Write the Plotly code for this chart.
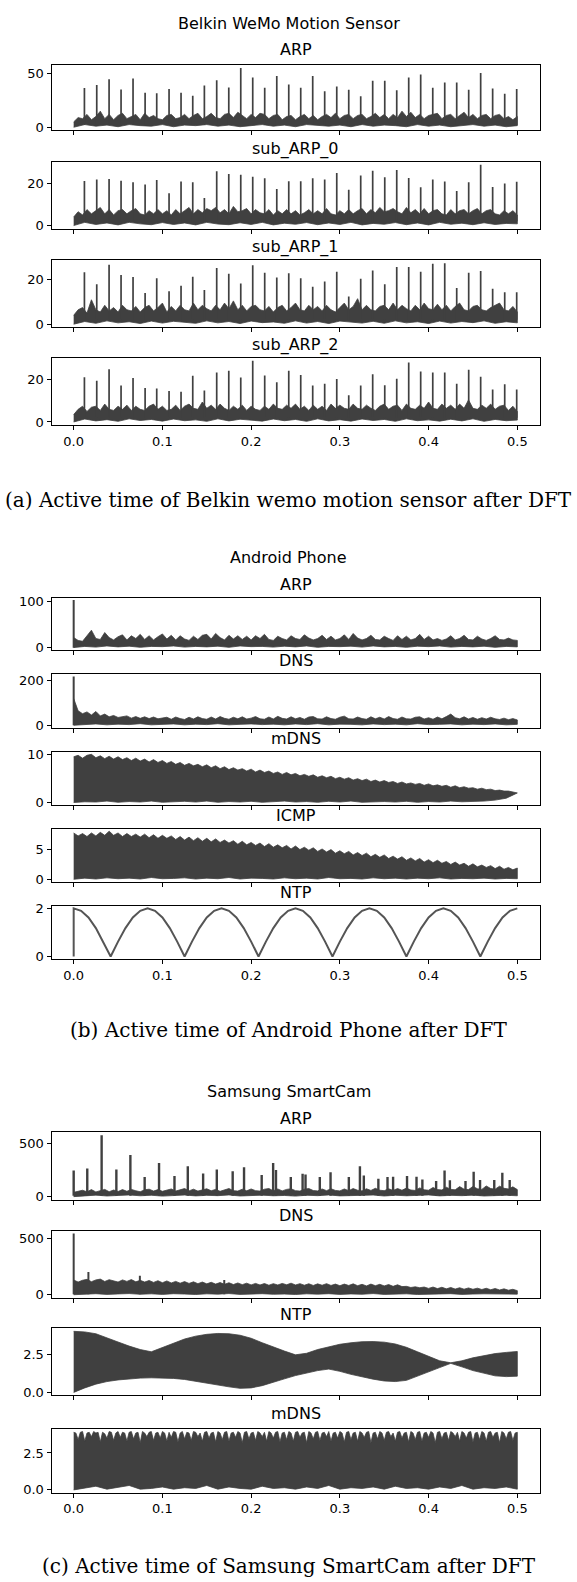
import numpy as np
import plotly.graph_objects as go

W, H = 577, 1582
INK = "#404040"
SANS = "DejaVu Sans"
SERIF = "DejaVu Serif"

# ---------------- shared tick data ----------------
freq_ticks = [0.0, 0.1, 0.2, 0.3, 0.4, 0.5]
freq_tick_labels = ["0.0", "0.1", "0.2", "0.3", "0.4", "0.5"]

# ---------------- (a) Belkin WeMo Motion Sensor ----------------
belkin_spike_f = [0.0121, 0.026, 0.0399, 0.0534, 0.0669, 0.0805, 0.0936, 0.1075, 0.121, 0.1342,
                  0.1473, 0.1612, 0.1748, 0.1883, 0.2018, 0.2153, 0.2289, 0.2424, 0.2559, 0.2694,
                  0.2829, 0.2965, 0.31, 0.3235, 0.337, 0.3506, 0.3641, 0.3776, 0.3911, 0.4047,
                  0.4182, 0.4317, 0.4452, 0.4587, 0.4722, 0.4858, 0.4993]
belkin_arp_spikes = [36.5, 39.5, 44.8, 35.3, 45.4, 32.3, 31.7, 35.6, 32.3, 29.3, 38.9, 43.9, 37.1,
                     55.2, 46.3, 36.8, 47.8, 39.8, 36.8, 47.8, 33.5, 38.0, 35.0, 29.0, 43.3, 43.3,
                     34.4, 46.3, 49.3, 36.8, 41.8, 41.8, 35.0, 50.5, 36.2, 31.3, 35.6]
belkin_sub0_spikes = [21.0, 21.6, 21.9, 21.1, 20.4, 19.3, 21.4, 15.2, 20.7, 20.4, 12.9, 25.5, 24.3,
                      23.9, 23.0, 22.2, 17.2, 20.8, 20.8, 22.2, 21.6, 24.7, 16.8, 23.5, 25.8, 22.7,
                      26.1, 22.4, 18.0, 21.6, 20.7, 16.2, 20.4, 28.6, 18.1, 19.8, 20.6]
belkin_sub1_spikes = [23.4, 18.0, 26.8, 22.1, 21.3, 14.1, 20.7, 14.8, 17.3, 21.4, 15.4, 25.3, 22.7,
                      18.3, 26.5, 23.2, 21.0, 22.9, 20.7, 16.9, 19.2, 23.6, 12.5, 20.5, 24.2, 18.0,
                      25.8, 25.8, 23.6, 27.2, 27.5, 16.3, 23.2, 24.0, 16.0, 14.4, 14.4]
belkin_sub2_spikes = [21.3, 19.6, 25.1, 17.3, 20.9, 16.2, 15.9, 14.7, 14.4, 22.0, 15.0, 23.5, 24.4,
                      21.2, 29.1, 22.1, 18.9, 24.4, 22.4, 17.3, 18.2, 20.4, 12.7, 17.3, 22.7, 17.5,
                      20.6, 28.3, 24.0, 23.5, 23.5, 18.2, 24.8, 21.5, 15.5, 18.0, 15.5]

belkin_arp_floor_hi = [5, 9, 8, 12, 7, 10, 15, 8, 12, 7, 11, 13, 8, 10, 12, 7, 13, 9, 11, 8, 7, 11, 12,
                       8, 9, 12, 8, 11, 13, 8, 10, 13, 9, 8, 12, 13, 9, 14, 11, 8, 12, 9, 13, 12, 8,
                       11, 12, 7, 10, 11, 7, 10, 12, 8, 11, 7, 10, 12, 9, 13, 8, 11, 12, 8, 11, 12, 8,
                       10, 13, 9, 12, 8, 12, 9, 15, 10, 14, 9, 12, 8, 11, 12, 13, 8, 11, 12, 8, 11, 14,
                       9, 12, 8, 11, 12, 8, 11, 12, 8, 10, 7, 10]
belkin_arp_floor_lo = [0, 2.5, 1, 2, 0.5, 2.5, 1.5, 1, 2.5, 0.5, 2, 1.5, 2.5, 1, 2, 0.5, 1.5, 2.5, 1,
                       2, 0.5, 2.5, 1.5, 1, 2, 0.5, 2.5, 1, 2, 1.5, 0.5, 2.5, 1, 2, 0.5, 1.5, 2.5, 1,
                       2, 0.5, 1.5]

belkin_sub0_floor_hi = [4, 6.5, 5, 7.5, 5.5, 7, 8.5, 5.5, 7.5, 5, 7, 7.5, 5.5, 7, 8, 5.5, 5, 7, 5.5,
                        7.5, 5.5, 7, 5, 7.5, 5.5, 7, 8.5, 5.5, 7.5, 6, 8, 7, 8.5, 6, 7.5, 5.5, 9, 6.5,
                        7, 8, 5.5, 7.5, 6, 5.5, 7.5, 5, 7, 5.5, 7.5, 5.5, 7, 5, 6, 7.5, 5.5, 7, 5.5, 8,
                        5.5, 5, 7, 5.5, 7.5, 5.5, 7, 8, 5.5, 7.5, 6, 8.5, 6.5, 7, 8, 6.5, 5.5, 8.5, 6,
                        7.5, 5.5, 8, 5.5, 7, 7.5, 5.5, 5, 7.5, 5.5, 7, 7.5, 5.5, 7, 8, 5.5, 7, 7.5,
                        5.5, 5, 7, 5.5, 7, 5]
belkin_sub0_floor_lo = [0, 1.5, 0.5, 1.2, 0.3, 1.5, 0.8, 0.4, 1.4, 0.5, 1.2, 0.3, 1.5, 0.7, 0.4, 1.3,
                        0.5, 1.5, 0.3, 1.1, 0.6, 1.4, 0.4, 1.2, 0.5, 1.5, 0.3, 1.0, 0.6, 1.4, 0.4, 1.2,
                        0.3, 1.5, 0.6, 1.1, 0.4, 1.3, 0.5, 1.0, 0.8]

belkin_sub1_floor_hi = [4, 6.5, 7.5, 5, 11, 6.5, 5.5, 8.5, 6, 7.5, 5.5, 8.5, 6.5, 6, 8, 5.5, 7.5, 8.5,
                        6, 7.5, 9.5, 5.5, 8, 6, 8.5, 6.5, 6, 9.5, 6.5, 8.5, 7, 6, 8.5, 6.5, 9.5, 7,
                        10.5, 6.5, 8.5, 6, 8, 8.5, 6.5, 6, 8, 5.5, 7.5, 8.5, 6, 7.5, 9.5, 6.5, 6, 8.5,
                        6.5, 8, 6, 8.5, 6.5, 5.5, 7.5, 9.5, 6.5, 8, 11.5, 6.5, 8.5, 6.5, 6, 8, 8.5,
                        6.5, 9.5, 6.5, 8.5, 7, 6, 8.5, 6.5, 9.5, 7, 6.5, 9, 6.5, 8.5, 6, 8, 9.5, 6.5,
                        6, 8, 8.5, 6.5, 6, 7.5, 8.5, 9.5, 6.5, 6, 8, 5.5]
belkin_sub1_floor_lo = [0, 1.2, 0.4, 1.5, 0.6, 1.1, 0.3, 1.4, 0.5, 1.3, 0.8, 0.4, 1.5, 0.6, 1.2, 0.3,
                        1.4, 0.7, 1.0, 0.4, 1.5, 0.5, 1.2, 0.3, 1.4, 0.8, 0.5, 1.3, 0.4, 1.5, 0.6, 1.1,
                        0.3, 1.4, 0.5, 1.2, 0.7, 1.5, 0.4, 1.1, 0.6]

belkin_sub2_floor_hi = [3.5, 6, 7.5, 5, 7, 7.5, 5.5, 8.5, 6, 5.5, 7.5, 6, 8, 5.5, 7.5, 6, 5.5, 7.5, 8.5,
                        6, 7.5, 5.5, 6, 8, 5.5, 7.5, 8.5, 6.5, 6, 9.5, 6.5, 8, 6, 8.5, 6.5, 5.5, 7.5,
                        6, 8, 5.5, 7.5, 6, 5.5, 7.5, 6, 8.5, 6.5, 6, 8, 6.5, 8.5, 6, 7.5, 5.5, 8, 6,
                        7.5, 5.5, 8.5, 6.5, 8, 6.5, 6, 8.5, 6.5, 6, 8, 6.5, 5.5, 7.5, 8.5, 6, 7.5, 8,
                        5.5, 8.5, 6.5, 6, 8, 6.5, 9.5, 6.5, 6, 8.5, 6.5, 8, 6, 8.5, 6.5, 10.5, 6.5, 6,
                        8, 6.5, 8.5, 6, 7.5, 8, 5.5, 7.5, 5]
belkin_sub2_floor_lo = [0, 1.4, 0.5, 1.1, 0.3, 1.5, 0.7, 1.2, 0.4, 1.4, 0.6, 1.0, 0.3, 1.5, 0.5, 1.3,
                        0.8, 0.4, 1.4, 0.6, 1.2, 0.3, 1.5, 0.5, 1.1, 0.4, 1.4, 0.7, 1.2, 0.3, 1.5, 0.6,
                        1.0, 0.4, 1.3, 0.5, 1.5, 0.3, 1.2, 0.6, 0.9]

# ---------------- (b) Android Phone ----------------
android_arp_dc = 103.4
android_arp_hi = [22, 16, 14, 26, 38, 20, 18, 33, 22, 17, 24, 28, 17, 26, 20, 29, 18, 26, 17, 24, 30,
                  19, 27, 17, 26, 19, 16, 25, 18, 27, 29, 19, 31, 22, 17, 27, 19, 26, 18, 25, 17, 26,
                  20, 29, 18, 16, 25, 20, 17, 26, 20, 18, 28, 21, 17, 20, 27, 18, 25, 17, 20, 28, 18,
                  31, 21, 17, 20, 27, 18, 17, 25, 20, 16, 26, 18, 25, 17, 20, 29, 18, 25, 17, 20, 16,
                  19, 26, 17, 20, 27, 18, 17, 25, 19, 16, 20, 26, 18, 17, 21, 17, 16]
android_arp_lo = [0.5, 3, 1.5, 4, 2, 3.5, 1, 3, 2.5, 4, 1.5, 3, 2, 3.5, 1, 4, 2.5, 3, 1.5, 3.5, 2, 4,
                  1, 3, 2.5, 3.5, 1.5, 4, 2, 3, 1, 3.5, 2.5, 4, 1.5, 3, 2, 3.5, 1, 3, 2]

android_dns_dc = 219.0
android_dns_hi = [120, 65, 52, 60, 46, 62, 42, 50, 38, 44, 35, 40, 42, 32, 39, 31, 38, 30, 37, 29, 33,
                  36, 27, 37, 30, 26, 36, 28, 38, 30, 27, 37, 28, 39, 31, 27, 36, 29, 38, 28, 32, 39,
                  29, 27, 37, 28, 40, 31, 28, 38, 29, 35, 27, 37, 39, 29, 28, 38, 30, 27, 36, 41, 29,
                  28, 37, 30, 27, 38, 29, 36, 28, 39, 30, 27, 37, 29, 28, 36, 38, 28, 34, 27, 37, 29,
                  39, 50, 34, 29, 38, 28, 35, 27, 34, 28, 36, 29, 26, 32, 25, 30, 24]
android_dns_lo = [0, 3, 6, 2, 5, 3, 7, 2, 4, 6, 2, 5, 3, 7, 2, 4, 6, 3, 5, 2, 6, 3, 7, 2, 5, 4, 2, 6,
                  3, 5, 2, 7, 3, 4, 6, 2, 5, 3, 6, 2, 4]

android_mdns_hi = [9.6, 9.9, 9.3, 9.9, 10.1, 9.4, 9.8, 9.2, 9.7, 9.1, 9.6, 9.0, 9.4, 8.8, 9.3, 8.7,
                   9.1, 8.5, 9.0, 8.4, 8.8, 8.2, 8.6, 8.0, 8.4, 7.8, 8.2, 7.7, 8.0, 7.5, 7.9, 7.3,
                   7.7, 7.1, 7.5, 6.9, 7.3, 6.8, 7.1, 6.6, 7.0, 6.4, 6.8, 6.3, 6.6, 6.1, 6.4, 5.9,
                   6.3, 5.8, 6.1, 5.6, 5.9, 5.5, 5.8, 5.3, 5.6, 5.2, 5.5, 5.0, 5.3, 4.9, 5.2, 4.7,
                   5.0, 4.6, 4.9, 4.4, 4.7, 4.3, 4.6, 4.2, 4.4, 4.0, 4.3, 3.9, 4.1, 3.8, 4.0, 3.6,
                   3.9, 3.5, 3.7, 3.4, 3.6, 3.2, 3.5, 3.1, 3.3, 3.0, 3.1, 2.8, 3.0, 2.7, 2.8, 2.5,
                   2.6, 2.4, 2.4, 2.2, 2.1]
android_mdns_lo = [0, 0.15, 0.1, 0.3, 0.05, 0.2, 0.1, 0.3, 0.05, 0.15, 0.25, 0.1, 0.3, 0.05, 0.2,
                   0.1, 0.25, 0.05, 0.15, 0.3, 0.1, 0.2, 0.05, 0.25, 0.1, 0.3, 0.05, 0.15, 0.2, 0.1,
                   0.25, 0.05, 0.2, 0.1, 0.3, 0.15, 0.2, 0.3, 0.5, 0.9, 2.0]

android_icmp_hi = [7.8, 7.3, 7.7, 7.2, 7.8, 7.3, 7.9, 7.4, 8.1, 7.4, 7.8, 7.2, 7.7, 7.2, 7.6, 7.1,
                   7.6, 7.0, 7.5, 6.9, 7.4, 6.9, 7.3, 6.7, 7.2, 6.6, 7.1, 6.5, 7.0, 6.4, 6.9, 6.3,
                   6.8, 6.2, 6.6, 6.1, 6.5, 5.9, 6.4, 5.8, 6.2, 5.7, 6.1, 5.5, 6.0, 5.4, 5.8, 5.3,
                   5.7, 5.1, 5.6, 5.0, 5.4, 4.9, 5.3, 4.7, 5.1, 4.6, 5.0, 4.4, 4.8, 4.3, 4.7, 4.1,
                   4.5, 4.0, 4.4, 3.8, 4.2, 3.7, 4.1, 3.5, 3.9, 3.4, 3.8, 3.2, 3.6, 3.1, 3.5, 2.9,
                   3.3, 2.8, 3.2, 2.7, 3.0, 2.5, 2.9, 2.4, 2.7, 2.2, 2.6, 2.1, 2.4, 2.0, 2.3, 1.8,
                   2.2, 1.7, 2.0, 1.6, 1.9]
android_icmp_lo = [0, 0.2, 0.05, 0.25, 0.1, 0.2, 0.05, 0.3, 0.1, 0.15, 0.25, 0.05, 0.2, 0.1, 0.3,
                   0.05, 0.2, 0.15, 0.05, 0.25, 0.1, 0.2, 0.05, 0.3, 0.1, 0.15, 0.05, 0.25, 0.1, 0.2,
                   0.05, 0.2, 0.1, 0.25, 0.05, 0.15, 0.1, 0.2, 0.05, 0.15, 0.1]

android_ntp_dc = 0.0
android_ntp = [2.0, 1.9, 1.62, 1.18, 0.62, 0.0, 0.62, 1.18, 1.62, 1.9,
               2.0, 1.9, 1.62, 1.18, 0.62, 0.0, 0.62, 1.18, 1.62, 1.9,
               2.0, 1.9, 1.62, 1.18, 0.62, 0.0, 0.62, 1.18, 1.62, 1.9,
               2.0, 1.9, 1.62, 1.18, 0.62, 0.0, 0.62, 1.18, 1.62, 1.9,
               2.0, 1.9, 1.62, 1.18, 0.62, 0.0, 0.62, 1.18, 1.62, 1.9,
               2.0, 1.9, 1.62, 1.18, 0.62, 0.0, 0.62, 1.18, 1.62, 1.9,
               2.0]

# ---------------- (c) Samsung SmartCam ----------------
samsung_arp_spike_f = [0.0, 0.0153, 0.0315, 0.0481, 0.0639, 0.08, 0.0962, 0.1136, 0.1286, 0.1459,
                       0.1613, 0.1792, 0.192, 0.2119, 0.2248, 0.228, 0.2447, 0.258, 0.2613, 0.2774,
                       0.2895, 0.3101, 0.3226, 0.327, 0.3434, 0.3537, 0.36, 0.3757, 0.3864, 0.393,
                       0.4085, 0.418, 0.424, 0.4416, 0.4508, 0.458, 0.474, 0.4831, 0.4914]
samsung_arp_spikes = [245, 264, 577, 254, 392, 184, 316, 193, 285, 217, 254, 239, 276, 203, 316, 250,
                      184, 215, 209, 184, 230, 184, 285, 199, 168, 184, 187, 193, 187, 162, 147, 245,
                      153, 147, 233, 156, 156, 224, 156]
samsung_arp_hi = [40, 48, 60, 45, 66, 44, 58, 68, 46, 62, 48, 66, 50, 68, 55, 46, 64, 70, 52, 66, 50,
                  63, 72, 52, 66, 76, 54, 70, 52, 66, 74, 55, 68, 50, 66, 76, 56, 52, 70, 55, 72, 56,
                  52, 70, 76, 55, 72, 54, 68, 74, 56, 52, 70, 76, 57, 54, 72, 56, 74, 58, 54, 72, 56,
                  76, 60, 54, 74, 58, 78, 60, 56, 74, 58, 76, 60, 80, 62, 58, 82, 64, 60, 86, 66, 62,
                  88, 68, 64, 94, 70, 66, 96, 74, 68, 100, 76, 70, 98, 78, 72, 92, 66]
samsung_arp_lo = [0, 8, 14, 6, 12, 16, 8, 13, 5, 11, 15, 7, 12, 9, 16, 6, 12, 14, 8, 11, 5, 13, 9, 16,
                  7, 12, 10, 15, 6, 13, 8, 11, 16, 7, 12, 9, 14, 6, 11, 13, 8]

samsung_dns_spike_f = [0.0, 0.0166, 0.0746, 0.1697]
samsung_dns_spikes = [541, 200, 168, 130]
samsung_dns_hi = [130, 112, 128, 136, 115, 131, 138, 117, 133, 122, 112, 131, 118, 134, 114, 127, 112,
                  126, 109, 124, 106, 122, 104, 118, 102, 116, 100, 114, 98, 112, 96, 110, 94, 108,
                  92, 106, 90, 104, 89, 102, 87, 100, 86, 99, 84, 98, 86, 100, 88, 102, 86, 98, 84,
                  97, 82, 96, 84, 98, 82, 94, 80, 94, 82, 96, 80, 92, 78, 94, 80, 92, 78, 90, 74, 88,
                  72, 74, 64, 70, 62, 68, 56, 68, 54, 66, 52, 64, 50, 62, 49, 60, 48, 58, 46, 57, 44,
                  55, 42, 52, 40, 48, 36]
samsung_dns_lo = [0, 4, 9, 3, 7, 10, 4, 8, 3, 9, 6, 2, 8, 5, 10, 3, 7, 9, 4, 6, 2, 8, 5, 9, 3, 7, 4,
                  10, 3, 6, 8, 2, 7, 5, 9, 3, 6, 8, 4, 7, 5]

samsung_ntp_f = [0.0, 0.0125, 0.025, 0.0375, 0.05, 0.0625, 0.075, 0.0875, 0.1, 0.1125, 0.125,
                 0.1375, 0.15, 0.1625, 0.175, 0.1875, 0.2, 0.2125, 0.225, 0.2375, 0.25, 0.2625,
                 0.275, 0.2875, 0.3, 0.3125, 0.325, 0.3375, 0.35, 0.3625, 0.375, 0.3875, 0.4,
                 0.4125, 0.425, 0.4375, 0.45, 0.4625, 0.475, 0.4875, 0.5]
samsung_ntp_upper = [4.06, 4.02, 3.9, 3.65, 3.35, 3.08, 2.85, 2.7, 3.0, 3.3, 3.55, 3.74, 3.86, 3.92,
                     3.9, 3.8, 3.6, 3.3, 3.0, 2.75, 2.5, 2.6, 2.85, 3.05, 3.2, 3.3, 3.37, 3.38,
                     3.34, 3.22, 3.0, 2.7, 2.4, 2.1, 1.97, 2.1, 2.3, 2.45, 2.58, 2.66, 2.72]
samsung_ntp_lower = [0.0, 0.3, 0.55, 0.72, 0.83, 0.9, 0.95, 0.97, 0.97, 0.93, 0.86, 0.75, 0.63,
                     0.5, 0.37, 0.27, 0.3, 0.45, 0.68, 0.9, 1.12, 1.3, 1.45, 1.55, 1.4, 1.2, 1.02,
                     0.88, 0.76, 0.72, 0.8, 1.05, 1.35, 1.65, 1.93, 1.7, 1.45, 1.25, 1.1, 1.05, 1.08]

samsung_mdns_hi = [3.9, 3.85, 3.4, 3.9, 3.95, 3.3, 3.85, 3.9, 3.6, 3.95, 3.85, 3.9, 3.25, 3.9, 3.8,
                   3.5, 3.95, 3.9, 3.35, 3.85,
                   3.95, 3.55, 3.9, 3.85, 3.3, 3.9, 3.95, 3.45, 3.85, 3.9, 3.2, 3.95, 3.85, 3.6, 3.9,
                   3.95, 3.35, 3.85, 3.9, 3.5,
                   3.95, 3.85, 3.3, 3.9, 3.55, 3.95, 3.9, 3.25, 3.85, 3.95, 3.45, 3.9, 3.85, 3.35,
                   3.95, 3.9, 3.6, 3.85, 3.3, 3.9,
                   3.95, 3.5, 3.85, 3.9, 3.25, 3.95, 3.85, 3.4, 3.9, 3.95, 3.3, 3.85, 3.9, 3.55, 3.95,
                   3.85, 3.2, 3.9, 3.95, 3.45,
                   3.85, 3.9, 3.35, 3.95, 3.85, 3.6, 3.9, 3.3, 3.95, 3.85, 3.5, 3.9, 3.95, 3.25, 3.85,
                   3.9, 3.4, 3.95, 3.85, 3.3,
                   3.9, 3.95, 3.55, 3.85, 3.9, 3.2, 3.95, 3.85, 3.45, 3.9, 3.95, 3.35, 3.85, 3.9, 3.6,
                   3.95, 3.3, 3.85, 3.9, 3.5,
                   3.95, 3.85, 3.25, 3.9, 3.95, 3.4, 3.85, 3.9, 3.3, 3.95, 3.85, 3.55, 3.9, 3.95, 3.2,
                   3.85, 3.9, 3.45, 3.95, 3.85,
                   3.35, 3.9, 3.95, 3.6, 3.85, 3.3, 3.9, 3.95, 3.5, 3.85, 3.9, 3.25, 3.95, 3.85, 3.4,
                   3.9, 3.95, 3.3, 3.85, 3.9,
                   3.55, 3.95, 3.85, 3.2, 3.9, 3.95, 3.45, 3.85, 3.9, 3.35, 3.95, 3.85, 3.6, 3.9, 3.3,
                   3.95, 3.85, 3.5, 3.9, 3.95,
                   3.25, 3.85, 3.9, 3.4, 3.95, 3.85, 3.3, 3.9, 3.95, 3.55, 3.85, 3.9, 3.2, 3.95, 3.85,
                   3.45, 3.9, 3.95, 3.35, 3.85,
                   3.9]
samsung_mdns_lo = [0, 0.1, 0.25, 0.05, 0.15, 0.3, 0.05, 0.1, 0.2, 0.05, 0.15, 0.1, 0.3, 0.05, 0.2,
                   0.1, 0.05, 0.25, 0.1, 0.15, 0.05, 0.2, 0.1, 0.3, 0.05, 0.15, 0.1, 0.2, 0.05, 0.25,
                   0.1, 0.15, 0.05, 0.2, 0.1, 0.3, 0.05, 0.15, 0.1, 0.2, 0.05]

# ---------------- text ----------------
group_titles = ["Belkin WeMo Motion Sensor", "Android Phone", "Samsung SmartCam"]
captions = ["(a) Active time of Belkin wemo motion sensor after DFT",
            "(b) Active time of Android Phone after DFT",
            "(c) Active time of Samsung SmartCam after DFT"]

# ---------------- layout geometry (pixels) ----------------
BOX_L, BOX_R = 51.5, 539.5
group_title_y = [18.3, 556.0, 1093.3]
caption_y = [497.7, 1031.7, 1571.0]

panels = [
    dict(title="ARP", box=(60.5, 126.0), ty=45.0, yt=[0, 50], ytl=["0", "50"], xl=False,
         band=(belkin_arp_floor_hi, belkin_arp_floor_lo), spikes=(belkin_spike_f, belkin_arp_spikes, 2, 1.7)),
    dict(title="sub_ARP_0", box=(157.7, 225.0), ty=145.0, yt=[0, 20], ytl=["0", "20"], xl=False,
         band=(belkin_sub0_floor_hi, belkin_sub0_floor_lo), spikes=(belkin_spike_f, belkin_sub0_spikes, 2, 1.7)),
    dict(title="sub_ARP_1", box=(256.7, 324.3), ty=243.3, yt=[0, 20], ytl=["0", "20"], xl=False,
         band=(belkin_sub1_floor_hi, belkin_sub1_floor_lo), spikes=(belkin_spike_f, belkin_sub1_spikes, 2, 1.7)),
    dict(title="sub_ARP_2", box=(355.0, 422.7), ty=341.7, yt=[0, 20], ytl=["0", "20"], xl=True,
         band=(belkin_sub2_floor_hi, belkin_sub2_floor_lo), spikes=(belkin_spike_f, belkin_sub2_spikes, 2, 1.7)),

    dict(title="ARP", box=(596.3, 649.3), ty=582.7, yt=[0, 100], ytl=["0", "100"], xl=False,
         band=(android_arp_hi, android_arp_lo), spikes=([0.0], [android_arp_dc], 0, 2.0)),
    dict(title="DNS", box=(673.3, 727.3), ty=659.3, yt=[0, 200], ytl=["0", "200"], xl=False,
         band=(android_dns_hi, android_dns_lo), spikes=([0.0], [android_dns_dc], 0, 2.0)),
    dict(title="mDNS", box=(751.7, 805.0), ty=737.7, yt=[0, 10], ytl=["0", "10"], xl=False,
         band=(android_mdns_hi, android_mdns_lo)),
    dict(title="ICMP", box=(829.0, 882.3), ty=816.0, yt=[0, 5], ytl=["0", "5"], xl=False,
         band=(android_icmp_hi, android_icmp_lo)),
    dict(title="NTP", box=(906.7, 960.0), ty=893.3, yt=[0, 2], ytl=["0", "2"], xl=True,
         line=android_ntp, line_dc=android_ntp_dc),

    dict(title="ARP", box=(1134.3, 1202.3), ty=1120.7, yt=[0, 500], ytl=["0", "500"], xl=False,
         band=(samsung_arp_hi, samsung_arp_lo), spikes=(samsung_arp_spike_f, samsung_arp_spikes, 8, 2.4)),
    dict(title="DNS", box=(1233.3, 1301.0), ty=1218.3, yt=[0, 500], ytl=["0", "500"], xl=False,
         band=(samsung_dns_hi, samsung_dns_lo), spikes=(samsung_dns_spike_f, samsung_dns_spikes, 4, 2.0)),
    dict(title="NTP", box=(1331.7, 1399.3), ty=1317.7, yt=[0, 2.5], ytl=["0.0", "2.5"], xl=False,
         band=(samsung_ntp_upper, samsung_ntp_lower), band_f=samsung_ntp_f),
    dict(title="mDNS", box=(1432.7, 1497.3), ty=1417.7, yt=[0, 2.5], ytl=["0.0", "2.5"], xl=True,
         band=(samsung_mdns_hi, samsung_mdns_lo)),
]


def px_y(py):
    return 1 - py / H


fig = go.Figure()
layout = dict(
    width=W, height=H, margin=dict(l=0, r=0, t=0, b=0),
    paper_bgcolor="white", plot_bgcolor="white", showlegend=False,
    annotations=[],
)

for i, p in enumerate(panels, start=1):
    xa = "x" if i == 1 else f"x{i}"
    ya = "y" if i == 1 else f"y{i}"
    vmax = 0.0
    if "band" in p:
        hi, lo = p["band"]
        if "band_f" in p:
            f_hi = list(p["band_f"])
            f_lo = list(p["band_f"])
        else:
            f_hi = list(np.linspace(0, 0.5, len(hi)))
            f_lo = list(np.linspace(0, 0.5, len(lo)))
        xs = f_hi + f_lo[::-1]
        ys = list(hi) + list(lo)[::-1]
        fig.add_trace(go.Scatter(x=xs, y=ys, mode="lines", fill="toself", fillcolor=INK,
                                 line=dict(color=INK, width=0.8), xaxis=xa, yaxis=ya,
                                 hoverinfo="skip"))
        vmax = max(vmax, max(hi))
    if "spikes" in p:
        sf, sa, base, lw = p["spikes"]
        sx, sy = [], []
        for f, a in zip(sf, sa):
            sx += [f, f, None]
            sy += [base, a, None]
        fig.add_trace(go.Scatter(x=sx, y=sy, mode="lines", line=dict(color=INK, width=lw),
                                 xaxis=xa, yaxis=ya, hoverinfo="skip"))
        vmax = max(vmax, max(sa))
    if "line" in p:
        vals = p["line"]
        lf = list(np.linspace(0, 0.5, len(vals)))
        fig.add_trace(go.Scatter(x=[0.0] + lf, y=[p["line_dc"]] + list(vals), mode="lines",
                                 line=dict(color="#555555", width=2.0), xaxis=xa, yaxis=ya,
                                 hoverinfo="skip"))
        vmax = max(vmax, max(vals))

    top, bot = p["box"]
    xkey = "xaxis" if i == 1 else f"xaxis{i}"
    ykey = "yaxis" if i == 1 else f"yaxis{i}"
    layout[xkey] = dict(
        domain=[BOX_L / W, BOX_R / W], anchor=ya, range=[-0.025, 0.525],
        tickmode="array", tickvals=freq_ticks, ticktext=freq_tick_labels,
        showticklabels=p["xl"], ticks="outside", ticklen=4, tickwidth=1, tickcolor="black",
        showline=True, linecolor="black", linewidth=1, mirror=True,
        showgrid=False, zeroline=False,
        tickfont=dict(family=SANS, size=13, color="black"),
    )
    layout[ykey] = dict(
        domain=[px_y(bot), px_y(top)], anchor=xa, range=[-0.05 * vmax, 1.05 * vmax],
        tickmode="array", tickvals=p["yt"], ticktext=p["ytl"],
        ticks="outside", ticklen=4, tickwidth=1, tickcolor="black",
        showline=True, linecolor="black", linewidth=1, mirror=True,
        showgrid=False, zeroline=False,
        tickfont=dict(family=SANS, size=13, color="black"),
    )
    layout["annotations"].append(dict(
        text=p["title"], x=(BOX_L + BOX_R) / 2 / W, y=px_y(p["ty"]), xref="paper", yref="paper",
        xanchor="center", yanchor="middle", showarrow=False,
        font=dict(family=SANS, size=16, color="black")))

for t, ty in zip(group_titles, group_title_y):
    layout["annotations"].append(dict(
        text=t, x=0.5, y=px_y(ty), xref="paper", yref="paper", xanchor="center",
        yanchor="middle", showarrow=False, font=dict(family=SANS, size=16, color="black")))

for c, cy in zip(captions, caption_y):
    layout["annotations"].append(dict(
        text=c, x=0.5, y=px_y(cy), xref="paper", yref="paper", xanchor="center",
        yanchor="middle", showarrow=False, font=dict(family=SERIF, size=20, color="black")))

fig.update_layout(**layout)
fig.write_html("out.html")
